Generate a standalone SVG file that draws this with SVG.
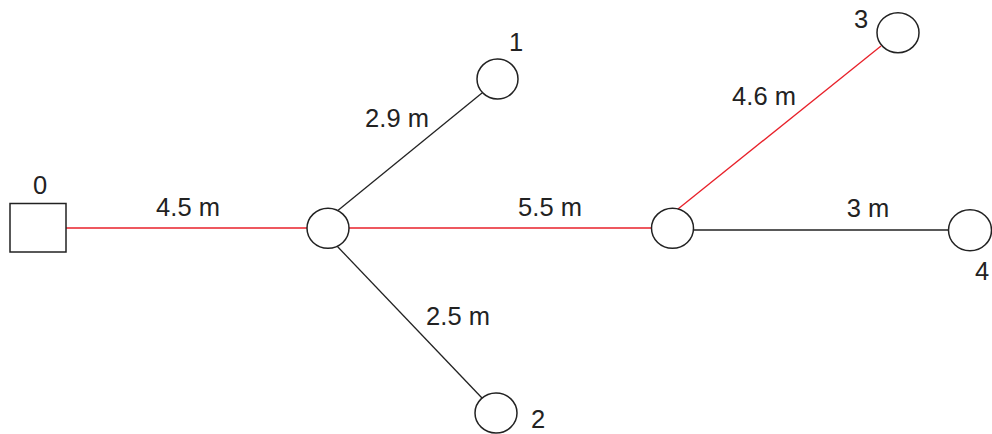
<svg xmlns="http://www.w3.org/2000/svg" width="992" height="434" viewBox="0 0 992 434">
<style>
.n{fill:#fff;stroke:#222;stroke-width:1.5}
.r{stroke:#e8212a;stroke-width:1.3;fill:none}
.b{stroke:#222;stroke-width:1.3;fill:none}
text{font-family:"Liberation Sans",Arial,sans-serif;font-size:25.5px;fill:#222;text-anchor:middle}
</style>
<rect width="992" height="434" fill="#fff"/>
<g id="connectors">
<line class="r" x1="66" y1="228" x2="307" y2="228"/>
<line class="b" x1="336" y1="212" x2="482" y2="93"/>
<line class="b" x1="336" y1="245" x2="482" y2="398"/>
<line class="r" x1="349" y1="228" x2="652" y2="228"/>
<line class="r" x1="678" y1="209" x2="881" y2="46"/>
<line class="b" x1="693" y1="230" x2="949" y2="230"/>
<text x="188" y="216">4.5 m</text>
<text x="397" y="127">2.9 m</text>
<text x="458" y="325">2.5 m</text>
<text x="550" y="216">5.5 m</text>
<text x="764" y="105">4.6 m</text>
<text x="868" y="217">3 m</text>
</g>
<g id="node0"><rect class="n" x="10" y="203.5" width="56" height="48.5"/><text x="40" y="194">0</text></g>
<g id="hub1"><ellipse class="n" cx="328" cy="228.3" rx="21" ry="20"/></g>
<g id="hub2"><ellipse class="n" cx="672.5" cy="228.3" rx="21" ry="20"/></g>
<g id="node1"><ellipse class="n" cx="497.5" cy="79" rx="20.5" ry="20"/><text x="516" y="51">1</text></g>
<g id="node2"><ellipse class="n" cx="496" cy="413" rx="21" ry="20"/><text x="538" y="428">2</text></g>
<g id="node3"><ellipse class="n" cx="898" cy="32.7" rx="21" ry="20"/><text x="861" y="28">3</text></g>
<g id="node4"><ellipse class="n" cx="970" cy="230.3" rx="21.5" ry="20.5"/><text x="975" y="280" style="text-anchor:start">4</text></g>
</svg>
